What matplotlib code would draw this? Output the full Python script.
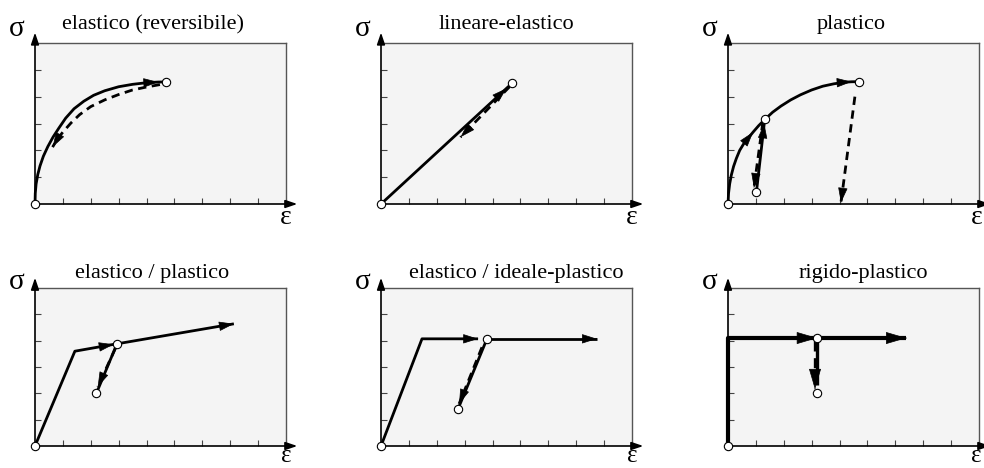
import numpy as np
import matplotlib.pyplot as plt

plt.rcParams['font.family'] = ['Liberation Serif', 'DejaVu Serif']

# ---- data (sigma / epsilon, axes run 0..9 x 0..6) ----
titles = ["elastico (reversibile)", "lineare-elastico", "plastico",
          "elastico / plastico", "elastico / ideale-plastico", "rigido-plastico"]

# elastico (reversibile)
el_load_x = [0, 0.01, 0.04, 0.1, 0.18, 0.3, 0.46, 0.65, 0.85, 1.1, 1.4, 1.75,
             2.1, 2.5, 3.0, 3.5, 4.0, 4.42, 4.7]
el_load_y = [0, 0.4, 0.75, 1.1, 1.42, 1.78, 2.14, 2.5, 2.82, 3.2, 3.55, 3.83,
             4.05, 4.22, 4.37, 4.46, 4.52, 4.545, 4.55]
el_unload_x = [4.48, 4.0, 3.5, 3.0, 2.5, 2.0, 1.6, 1.29, 1.0, 0.8, 0.63]
el_unload_y = [4.45, 4.36, 4.25, 4.08, 3.88, 3.63, 3.33, 3.02, 2.68, 2.42, 2.12]
el_pts = [(0, 0), (4.7, 4.55)]

# lineare-elastico
lin_load_x = [0, 4.5, 4.7]
lin_load_y = [0, 4.31, 4.5]
lin_unload_x = [4.61, 2.85]
lin_unload_y = [4.37, 2.49]
lin_pts = [(0, 0), (4.7, 4.5)]

# plastico
pl_load1_x = [0, 0.02, 0.06, 0.12, 0.2, 0.3, 0.42, 0.56, 0.72, 0.9, 1.1, 1.33]
pl_load1_y = [0, 0.4, 0.75, 1.08, 1.4, 1.7, 2.0, 2.24, 2.45, 2.68, 2.92, 3.16]
pl_load2_x = [1.33, 1.6, 1.9, 2.25, 2.6, 3.0, 3.4, 3.8, 4.2, 4.43, 4.68]
pl_load2_y = [3.16, 3.42, 3.65, 3.88, 4.07, 4.25, 4.39, 4.48, 4.54, 4.555, 4.56]
pl_unload1_x = [1.25, 0.93]
pl_unload1_y = [3.05, 0.6]
pl_reload_x = [1.02, 1.3]
pl_reload_y = [0.45, 3.0]
pl_unload2_x = [4.55, 4.05]
pl_unload2_y = [4.0, 0.05]
pl_pts = [(0, 0), (1.33, 3.16), (0.99, 0.45), (4.68, 4.56)]

# elastico / plastico
ep_load_x = [0, 1.43, 2.82, 2.94, 7.13]
ep_load_y = [0, 3.6, 3.86, 3.88, 4.64]
ep_unload_x = [2.88, 2.25]
ep_unload_y = [3.7, 2.25]
ep_reload_x = [2.2, 2.94]
ep_reload_y = [2.0, 3.88]
ep_pts = [(0, 0), (2.94, 3.88), (2.2, 2.0)]

# elastico / ideale-plastico
eip_load1_x = [0, 1.47, 3.48]
eip_load1_y = [0, 4.07, 4.07]
eip_load2_x = [3.8, 7.74]
eip_load2_y = [4.07, 4.07]
eip_unload_x = [3.62, 2.8]
eip_unload_y = [3.75, 1.6]
eip_reload_x = [2.76, 3.8]
eip_reload_y = [1.4, 4.07]
eip_pts = [(0, 0), (3.8, 4.07), (2.76, 1.4)]

# rigido-plastico
rp_load1_x = [0, 0, 3.2]
rp_load1_y = [0, 4.1, 4.1]
rp_load2_x = [3.2, 6.4]
rp_load2_y = [4.1, 4.1]
rp_unload_x = [3.12, 3.12]
rp_unload_y = [4.0, 2.15]
rp_drop_x = [3.2, 3.2]
rp_drop_y = [4.1, 2.3]
rp_pts = [(0, 0), (3.2, 4.1), (3.2, 2.0)]

W, H = 984, 468
fig = plt.figure(figsize=(W / 100, H / 100), dpi=100)

col_left = [35, 381, 728]
rows = [(43, 204), (288, 446)]
title_x = [0.47, 0.5, 0.49, 0.465, 0.54, 0.54]
title_pad = [10, 7.5]
sig_y = [1.09, 1.04]
eps_y = [-0.125, -0.101]
eps_size = [20, 18]
eps_x = [1.0, 1.0, 0.99]

LW = 2.0
DASH = (0, (3.0, 2.0))


def head(ax, xs, ys, big=False, i=-1):
    # filled arrow head at point i, pointing along the segment (i-1 -> i)
    tip = np.array([xs[i], ys[i]], float)
    prev = np.array([xs[i - 1], ys[i - 1]], float)
    d = tip - prev
    tail = tip - 0.02 * d / np.hypot(*d)
    style = '-|>,head_length=0.85,head_width=0.25' if big else '-|>,head_length=0.6,head_width=0.19'
    ax.annotate('', xy=tip, xytext=tail,
                arrowprops=dict(arrowstyle=style, color='k', lw=0.5,
                                mutation_scale=16, shrinkA=0, shrinkB=0),
                annotation_clip=False)


def line(ax, xs, ys, dashed=False, lw=LW, arrow=True, big=False):
    ax.plot(xs, ys, color='k', lw=lw, ls=DASH if dashed else '-',
            solid_capstyle='butt', solid_joinstyle='round', clip_on=False, zorder=3)
    if arrow:
        head(ax, xs, ys, big=big)


def dots(ax, pts):
    px, py = zip(*pts)
    ax.plot(px, py, 'o', ms=6, mfc='white', mec='k', mew=0.8,
            clip_on=False, zorder=6)


axes = []
for r, (top, bot) in enumerate(rows):
    for c, left in enumerate(col_left):
        k = r * 3 + c
        ax = fig.add_axes([left / W, 1 - bot / H, 251 / W, (bot - top) / H])
        ax.set_xlim(0, 9)
        ax.set_ylim(0, 6)
        ax.set_facecolor('#f4f4f4')
        ax.set_xticks(range(1, 9))
        ax.set_yticks(range(1, 6))
        ax.tick_params(direction='in', length=4, width=0.8, color='#444',
                       labelleft=False, labelbottom=False)
        for s in ['top', 'right']:
            ax.spines[s].set_color('#555')
            ax.spines[s].set_linewidth(1.0)
        for s in ['left', 'bottom']:
            ax.spines[s].set_color('k')
            ax.spines[s].set_linewidth(1.2)
        # axis arrows
        ax.annotate('', xy=(0, 1.065), xytext=(0, 1.0), xycoords='axes fraction',
                    arrowprops=dict(arrowstyle='-|>,head_length=0.5,head_width=0.17',
                                    color='k', lw=1.2, mutation_scale=14,
                                    shrinkA=0, shrinkB=0))
        ax.annotate('', xy=(1.045, 0), xytext=(1.0, 0), xycoords='axes fraction',
                    arrowprops=dict(arrowstyle='-|>,head_length=0.5,head_width=0.17',
                                    color='k', lw=1.2, mutation_scale=14,
                                    shrinkA=0, shrinkB=0))
        ax.set_title(titles[k], fontsize=16, x=title_x[k], pad=title_pad[r])
        ax.text(-0.072, sig_y[r], 'σ', transform=ax.transAxes, fontsize=21,
                ha='center', va='center')
        ax.text(eps_x[c], eps_y[r], 'ε', transform=ax.transAxes,
                fontsize=eps_size[r], ha='center', va='baseline')
        axes.append(ax)

# elastico (reversibile)
ax = axes[0]
line(ax, el_load_x, el_load_y, arrow=False)
head(ax, el_load_x, el_load_y, i=-2)
line(ax, el_unload_x, el_unload_y, dashed=True)
dots(ax, el_pts)

# lineare-elastico
ax = axes[1]
line(ax, lin_load_x, lin_load_y, arrow=False)
head(ax, lin_load_x, lin_load_y, i=-2)
line(ax, lin_unload_x, lin_unload_y, dashed=True)
dots(ax, lin_pts)

# plastico
ax = axes[2]
line(ax, pl_load1_x, pl_load1_y, arrow=False)
head(ax, pl_load1_x, pl_load1_y, i=-3)
line(ax, pl_load2_x, pl_load2_y, arrow=False)
head(ax, pl_load2_x, pl_load2_y, i=-2)
line(ax, pl_unload1_x, pl_unload1_y, dashed=True)
line(ax, pl_reload_x, pl_reload_y)
line(ax, pl_unload2_x, pl_unload2_y, dashed=True)
dots(ax, pl_pts)

# elastico / plastico
ax = axes[3]
line(ax, ep_load_x, ep_load_y)
head(ax, ep_load_x, ep_load_y, i=2)
line(ax, ep_unload_x, ep_unload_y, dashed=True)
line(ax, ep_reload_x, ep_reload_y, arrow=False)
dots(ax, ep_pts)

# elastico / ideale-plastico
ax = axes[4]
line(ax, eip_load1_x, eip_load1_y)
line(ax, eip_load2_x, eip_load2_y)
line(ax, eip_reload_x, eip_reload_y, arrow=False)
line(ax, eip_unload_x, eip_unload_y, dashed=True)
dots(ax, eip_pts)

# rigido-plastico
ax = axes[5]
line(ax, rp_load1_x, rp_load1_y, lw=3, big=True)
line(ax, rp_load2_x, rp_load2_y, lw=3, big=True)
line(ax, rp_drop_x, rp_drop_y, lw=2.4, arrow=False)
line(ax, rp_unload_x, rp_unload_y, dashed=True, lw=2.4, big=True)
dots(ax, rp_pts)

fig.savefig('out.png', dpi=100)
